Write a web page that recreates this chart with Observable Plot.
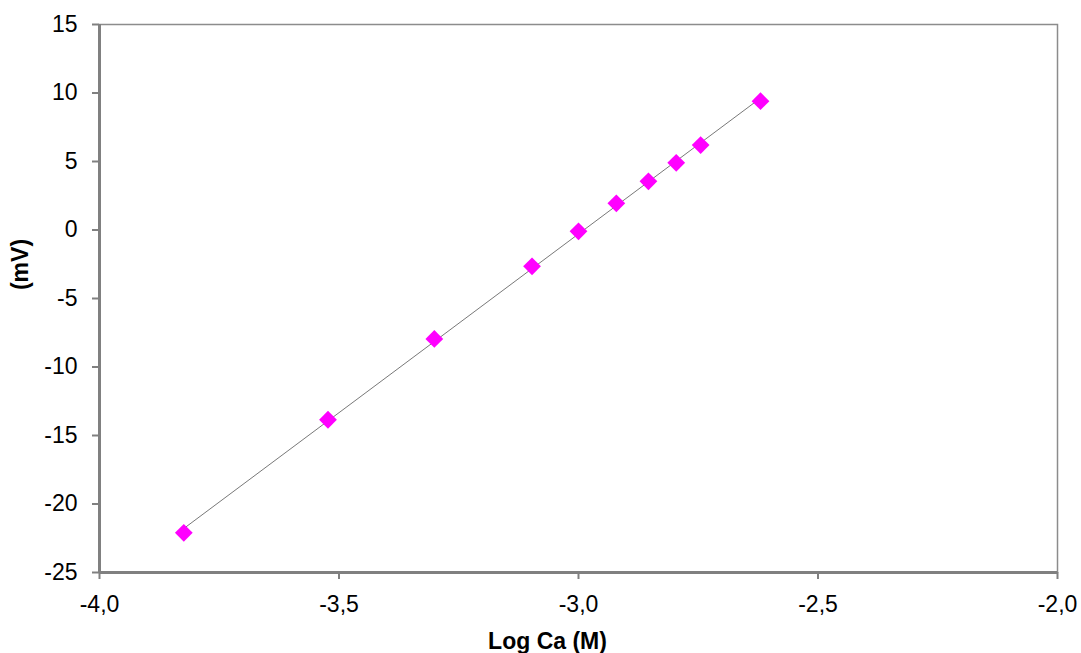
<!DOCTYPE html>
<html><head><meta charset="utf-8">
<script src="https://cdn.jsdelivr.net/npm/d3@7"></script>
<script src="https://cdn.jsdelivr.net/npm/@observablehq/plot@0.6"></script>
<style>
body{margin:0;background:#fff;}
#chart svg{font-family:"Liberation Sans",Arial,sans-serif !important;}
</style>
</head><body><div id="chart"></div>
<script>
const logCa = [-3.824, -3.523, -3.301, -3.097, -3.0, -2.921, -2.854, -2.796, -2.745, -2.620];
const mV = [-22.1, -13.85, -7.95, -2.65, -0.1, 1.95, 3.55, 4.9, 6.2, 9.4];
const xTicks = [-4.0, -3.5, -3.0, -2.5, -2.0];
const yTicks = [-25, -20, -15, -10, -5, 0, 5, 10, 15];
const xLabel = "Log Ca (M)";
const yLabel = "(mV)";
const data = logCa.map((x, i) => ({x, y: mV[i]}));
const fmtX = d => d.toFixed(1).replace(".", ",");
const fmtY = d => String(d);

const chart = Plot.plot({
  width: 1081, height: 653,
  marginLeft: 99, marginRight: 24, marginTop: 24, marginBottom: 81,
  style: {color: "black", background: "white", fontSize: "23px"},
  x: {domain: [-4, -2]},
  y: {domain: [-25, 15]},
  marks: [
    Plot.frame({stroke: "#8c8c8c", strokeWidth: 1.5}),
    Plot.axisY({ticks: yTicks, tickFormat: fmtY, tickSize: 7, tickPadding: 15, stroke: "#808080", strokeWidth: 2, fill: "black", fontSize: 23, label: null}),
    Plot.axisX({ticks: xTicks, tickFormat: fmtX, tickSize: 7, tickPadding: 16, stroke: "#808080", strokeWidth: 2, fill: "black", fontSize: 23, label: null}),
    Plot.text([yLabel], {text: d => d, frameAnchor: "left", rotate: -90, dx: -79, dy: -34, fontSize: 23, fontWeight: "bold", fill: "black", textAnchor: "middle", lineAnchor: "middle"}),
    Plot.text([xLabel], {text: d => d, frameAnchor: "bottom", dx: -31, dy: 69, fontSize: 23, fontWeight: "bold", fill: "black", textAnchor: "middle", lineAnchor: "middle"}),
    Plot.ruleX([-4], {stroke: "#808080", strokeWidth: 3}),
    Plot.ruleY([-25], {stroke: "#808080", strokeWidth: 3}),
    Plot.linearRegressionY(data, {x: "x", y: "y", ci: 0, stroke: "#555", strokeWidth: 0.8}),
    Plot.dot(data, {x: "x", y: "y", symbol: "diamond2", r: 8, fill: "#ff00ff", stroke: "none"})
  ]
});
document.getElementById("chart").appendChild(chart);
</script>
</body></html>
